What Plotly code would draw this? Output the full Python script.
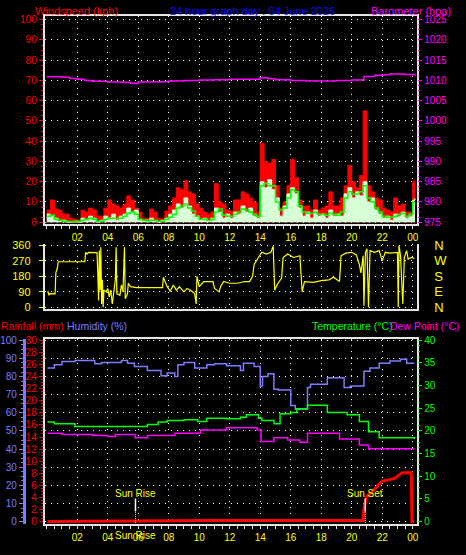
import plotly.graph_objects as go

# ---------------- data ----------------
hour_ticks = [2, 4, 6, 8, 10, 12, 14, 16, 18, 20, 22, 24]
hour_labels = ["02", "04", "06", "08", "10", "12", "14", "16", "18", "20", "22", "00"]

wind_hours = [0.0, 0.25, 0.5, 0.75, 1.0, 1.25, 1.5, 1.75, 2.0, 2.25, 2.5, 2.75, 3.0, 3.25, 3.5, 3.75,
              4.0, 4.25, 4.5, 4.75, 5.0, 5.25, 5.5, 5.75, 6.0, 6.25, 6.5, 6.75, 7.0, 7.25, 7.5, 7.75,
              8.0, 8.25, 8.5, 8.75, 9.0, 9.25, 9.5, 9.75, 10.0, 10.25, 10.5, 10.75, 11.0, 11.25, 11.5, 11.75,
              12.0, 12.25, 12.5, 12.75, 13.0, 13.25, 13.5, 13.75, 14.0, 14.25, 14.5, 14.75, 15.0, 15.25, 15.5, 15.75,
              16.0, 16.25, 16.5, 16.75, 17.0, 17.25, 17.5, 17.75, 18.0, 18.25, 18.5, 18.75, 19.0, 19.25, 19.5, 19.75,
              20.0, 20.25, 20.5, 20.75, 21.0, 21.25, 21.5, 21.75, 22.0, 22.25, 22.5, 22.75, 23.0, 23.25, 23.5, 23.75,
              24.0, 24.15]
wind_gust = [6, 11, 6.5, 6, 4, 4, 2, 1.5, 1, 6, 5, 7, 6, 3, 3, 7,
             11, 9, 8, 7, 9, 13, 11, 7, 5, 2, 2, 6.5, 5, 2, 1.5, 5.5,
             8, 12, 17, 16, 20.5, 15, 14, 9, 7, 5, 4, 5, 19, 10, 9, 6,
             5.5, 11, 11, 15, 14, 12, 10, 5, 39, 30, 29, 31, 18, 7, 10, 18,
             31, 22, 11, 8, 8, 6, 11, 6, 7, 8, 15, 8, 8, 12, 18, 28,
             20, 17, 23, 55, 18, 15, 12, 11, 7, 6, 5, 12, 8, 9, 5, 5,
             20, 21]
wind_avg = [3, 3.5, 1.5, 1, 0.5, 0.5, 0.3, 0.3, 0.5, 1, 1.5, 2, 1.5, 0.5, 0.5, 1.5,
            2, 2, 2, 2, 3, 4.5, 5, 4, 1.5, 1, 0.8, 1, 1, 0.5, 0.5, 1.5,
            2.5, 4, 7, 8, 9, 7, 5.5, 3, 1.5, 1.5, 1, 1.5, 5, 6.5, 3.5, 3,
            3, 4, 5, 6.5, 6, 5, 4, 3, 18, 19, 18, 18, 10, 6, 7, 12,
            16, 15, 8, 5, 4.5, 4.5, 5, 4, 4, 3.5, 4.5, 4, 3.5, 5, 12, 15,
            14, 14, 15, 18, 12, 10, 7, 5, 3, 2.5, 2.5, 3, 4, 4.5, 3, 4,
            10, 10]
wind_speed = [4, 3, 2, 0.5, 1, 0, 0, 0.5, 0, 2, 1, 3, 2, 0, 1, 3,
              2, 4, 1, 3, 4, 7, 5, 6, 1, 0.5, 1, 2, 0.5, 0, 1, 2,
              4, 6, 9, 7, 12, 8, 4, 3, 1, 2, 0.5, 2, 7, 5, 2, 4,
              2, 5, 4, 8, 5, 7, 3, 2, 20, 17, 21, 16, 12, 3, 8, 14,
              17, 14, 7, 3, 5, 2, 6, 3, 4, 2, 6, 3, 4, 3, 14, 17,
              12, 15, 13, 20, 10, 12, 6, 4, 2, 3, 1, 4, 3, 5, 2, 3,
              11, 12]

baro_hours = [0, 0.5, 1, 1.5, 2, 2.5, 3, 4, 5, 5.5, 6, 7, 8, 9, 10, 11, 12, 13, 14, 14.5,
              15, 16, 17, 18, 19, 20, 20.7, 20.8, 21.5, 22, 22.5, 23, 23.5, 24.15]
baro_hpa = [1010.9, 1010.9, 1010.8, 1010.5, 1010.3, 1010.0, 1009.8, 1009.6, 1009.5, 1009.3,
            1009.6, 1009.7, 1009.9, 1010.0, 1010.1, 1010.2, 1010.3, 1010.3, 1010.7, 1010.4,
            1010.2, 1010.0, 1009.9, 1009.9, 1010.0, 1010.1, 1010.2, 1011.0, 1011.3, 1011.4,
            1011.6, 1011.6, 1011.5, 1011.2]

dir_hours = [0.07, 0.15, 0.2, 0.55, 0.6, 0.7, 0.76, 2.5, 2.55, 2.65, 2.75, 3.3, 3.35, 3.4, 3.45, 3.5,
             3.55, 3.6, 3.65, 3.7, 3.75, 3.9, 4.0, 4.1, 4.2, 4.3, 4.4, 4.5, 4.55, 4.6, 4.8, 4.9,
             5.0, 5.1, 5.15, 5.3, 5.35, 5.5, 5.9, 7.6, 7.65, 7.8, 7.9, 8.1, 8.3, 8.5, 8.7, 9.0,
             9.2, 9.5, 9.7, 9.8, 9.85, 10.0, 10.3, 10.9, 11.0, 11.3, 11.4, 11.6, 12.0, 12.5, 13.0, 13.3,
             13.5, 13.6, 13.9, 14.1, 14.4, 14.7, 14.85, 14.95, 15.1, 15.4, 15.5, 15.8, 16.2, 16.6, 16.7, 16.75,
             16.9, 17.5, 18.0, 18.5, 18.8, 19.0, 19.2, 19.3, 19.6, 20.0, 20.3, 20.5, 20.6, 20.75, 20.8, 20.9,
             21.0, 21.1, 21.2, 21.5, 21.8, 22.0, 22.2, 22.5, 23.0, 23.05, 23.1, 23.2, 23.35, 23.45, 23.6, 23.7,
             23.9, 24.1]
dir_deg = [95, 70, 80, 78, 200, 230, 265, 265, 320, 310, 320, 318, 200, 40, 330, 100,
           350, 20, 160, 0, 100, 90, 110, 60, 100, 20, 90, 160, 350, 80, 70, 130,
           90, 350, 50, 80, 140, 120, 115, 115, 175, 140, 120, 95, 130, 100, 120, 90,
           110, 95, 80, 20, 180, 120, 150, 150, 110, 90, 120, 150, 140, 140, 150, 150,
           180, 250, 290, 320, 310, 320, 355, 100, 130, 170, 290, 310, 290, 300, 160, 90,
           150, 145, 155, 160, 175, 160, 150, 300, 315, 320, 305, 250, 200, 300, 10, 320,
           340, 0, 330, 320, 330, 270, 320, 315, 320, 0, 360, 300, 20, 290, 330, 280,
           290, 285]
compass_deg = [0, 90, 180, 270, 360]
compass_labels = ["N", "E", "S", "W", "N"]

hum_hours = [0.05, 0.5, 1.0, 1.85, 3.15, 3.6, 4.9, 5.3, 5.75, 6.6, 7.5, 7.9, 8.4, 8.6, 9.0, 9.7,
             10.5, 11.0, 11.8, 12.7, 12.9, 13.6, 14.0, 14.15, 14.5, 14.9, 15.2, 16.0, 16.3, 17.1, 17.3,
             18.4, 19.5, 19.9, 20.8, 21.2, 21.8, 22.5, 23.2, 23.6, 24.1]
hum_pct = [84.7, 86.5, 88.3, 88.8, 87, 87.7, 88.8, 87.4, 85.6, 83.4, 80.5, 82, 80, 86.5, 87.7, 84.7,
           86.5, 87, 86, 83.4, 87.4, 85.6, 74.8, 80, 81.6, 73, 72.6, 64, 62, 73.9, 75.7,
           79.3, 74, 74.8, 82.9, 84.7, 87.4, 88.6, 89.5, 87.4, 87.4]

temp_hours = [0.05, 0.5, 1.85, 5.75, 6.6, 7.3, 7.9, 9.0, 9.9, 10.5, 11.8, 12.7, 13.1, 13.9, 14.1,
              14.9, 15.3, 16.0, 16.4, 17.1, 18.4, 19.7, 20.5, 21.1, 21.8, 24.1]
temp_c = [22, 21.6, 21, 21, 21.4, 22, 22.3, 22.5, 22.1, 22.8, 22.7, 23, 23.6, 22.8, 22.3,
          21.6, 23.8, 24.1, 24.9, 25.7, 24.1, 23.6, 22.1, 19.8, 18.5, 18.2]

dew_hours = [0.05, 1.0, 3.0, 4.0, 4.5, 5.8, 6.6, 8.4, 10.1, 11.8, 13.8, 14.05, 14.9, 15.8, 16.6,
             17.1, 19.2, 20.5, 21.1, 24.1]
dew_c = [19.5, 19.2, 19.0, 18.8, 19.2, 18.5, 19.0, 19.5, 20.2, 20.7, 20.2, 17.7, 18.5, 18.0, 17.5,
         19.5, 18.2, 16.9, 16.1, 16.1]

rain_hours = [0.05, 10.95, 20.74, 20.8, 20.96, 21.4, 21.8, 22.0, 22.4, 22.85, 23.3, 23.9, 23.95, 24.1]
rain_mm = [0, 0.2, 0.2, 2.2, 4.1, 5.1, 6.2, 6.7, 6.9, 7.2, 8.1, 8.1, 0, 0]

sunrise_h = 5.82
sunset_h = 20.89

# ---------------- layout helpers ----------------
W, H = 466, 555
XD = [43 / W, 418 / W]
Y_TOP = [1 - 223.3 / H, 1 - 10.7 / H]
Y_DIR = [1 - 309.3 / H, 1 - 243.3 / H]
Y_BOT = [1 - 529.3 / H, 1 - 340 / H]
XR = [-0.13, 24.30]

FONT = "Liberation Sans, Arial, sans-serif"
GRID = dict(showgrid=True, gridcolor="#ffffff", griddash="1px,5px", gridwidth=1)
RED = "#ff0000"
MAG = "#ff00ff"
YEL = "#ffff00"
GRN = "#00ff00"
HUM = "#7c7cff"
BORDER = "#e6e6e6"

fig = go.Figure()

# top panel: wind
fig.add_trace(go.Scatter(x=wind_hours, y=wind_gust, mode="lines", line=dict(color=RED, width=1, shape="hv"),
                         fill="tozeroy", fillcolor=RED, xaxis="x", yaxis="y"))
fig.add_trace(go.Scatter(x=wind_hours, y=wind_speed, mode="lines", line=dict(color="#d6ffd6", width=1, shape="hv"),
                         fill="tozeroy", fillcolor="#d6ffd6", xaxis="x", yaxis="y"))
fig.add_trace(go.Scatter(x=wind_hours, y=wind_avg, mode="lines", line=dict(color=GRN, width=1.5, shape="hv"),
                         xaxis="x", yaxis="y"))
fig.add_trace(go.Scatter(x=baro_hours, y=baro_hpa, mode="lines", line=dict(color=MAG, width=1.5, shape="hv"),
                         xaxis="x", yaxis="y2"))

# middle panel: direction
fig.add_trace(go.Scatter(x=dir_hours, y=dir_deg, mode="lines", line=dict(color=YEL, width=1.2),
                         xaxis="x2", yaxis="y3"))
# invisible carrier so the compass-letter axis is drawn
fig.add_trace(go.Scatter(x=[XR[0], XR[0]], y=[compass_deg[0], compass_deg[-1]], mode="lines",
                         line=dict(color="rgba(0,0,0,0)", width=0), xaxis="x2", yaxis="y4",
                         hoverinfo="skip"))

# bottom panel
fig.add_trace(go.Scatter(x=rain_hours, y=rain_mm, mode="lines", line=dict(color=RED, width=3),
                         xaxis="x3", yaxis="y5"))
fig.add_trace(go.Scatter(x=hum_hours, y=hum_pct, mode="lines", line=dict(color=HUM, width=1.5, shape="hv"),
                         xaxis="x3", yaxis="y6"))
fig.add_trace(go.Scatter(x=temp_hours, y=temp_c, mode="lines", line=dict(color=GRN, width=1.5, shape="hv"),
                         xaxis="x3", yaxis="y7"))
fig.add_trace(go.Scatter(x=dew_hours, y=dew_c, mode="lines", line=dict(color=MAG, width=1.5, shape="hv"),
                         xaxis="x3", yaxis="y7"))

tickfont_x = dict(color=YEL, size=10, family=FONT)
xcommon = dict(range=XR, domain=XD, tickvals=hour_ticks, ticktext=hour_labels, zeroline=False, **GRID)

fig.update_layout(
    width=W, height=H, margin=dict(l=0, r=0, t=0, b=0),
    paper_bgcolor="#000000", plot_bgcolor="#000000", showlegend=False,
    font=dict(family=FONT, size=10),
    xaxis=dict(anchor="y", ticks="outside", ticklen=3, tickcolor=BORDER, tickfont=tickfont_x,
               showline=True, linecolor=BORDER, linewidth=2, mirror=True,
               minor=dict(dtick=0.5, tick0=0, ticklen=3, tickcolor=BORDER, showgrid=False), **xcommon),
    yaxis=dict(domain=Y_TOP, anchor="x", range=[-1.1, 101.6], tickvals=list(range(0, 101, 10)),
               tickfont=dict(color=RED, size=10), ticks="outside", ticklen=4, tickcolor=RED,
               showline=True, linecolor=BORDER, linewidth=2, mirror=True, zeroline=False,
               minor=dict(dtick=2.5, ticklen=2, tickcolor=RED, showgrid=False), **GRID),
    yaxis2=dict(overlaying="y", side="right", anchor="x", range=[974.45, 1025.8],
                tickvals=list(range(975, 1026, 5)), tickfont=dict(color=MAG, size=10),
                ticks="outside", ticklen=4, tickcolor=MAG, showgrid=False, zeroline=False, showline=False,
                minor=dict(dtick=1.25, ticklen=2, tickcolor=MAG, showgrid=False)),
    xaxis2=dict(anchor="y3", showticklabels=False, ticks="", showline=True, linecolor=BORDER,
                linewidth=2, mirror=False, **xcommon),
    yaxis3=dict(domain=Y_DIR, anchor="x2", range=[-7.4, 368], tickvals=compass_deg,
                tickfont=dict(color=YEL, size=11), ticks="outside", ticklen=4, tickcolor=YEL,
                ticklabelstandoff=6, showline=True, linecolor=BORDER, linewidth=2, mirror=True,
                zeroline=False, **GRID),
    yaxis4=dict(overlaying="y3", side="right", anchor="x2", range=[-7.4, 368],
                tickvals=compass_deg, ticktext=compass_labels,
                tickfont=dict(color=YEL, size=13), ticks="", ticklabelstandoff=16,
                showgrid=False, zeroline=False, showline=False),
    xaxis3=dict(anchor="y5", ticks="outside", ticklen=3, tickcolor=BORDER, tickfont=tickfont_x,
                showline=True, linecolor=BORDER, linewidth=2, mirror=True,
                minor=dict(dtick=0.5, tick0=0, ticklen=3, tickcolor=BORDER, showgrid=False), **xcommon),
    yaxis5=dict(domain=Y_BOT, anchor="x3", range=[-0.37, 30.28], tickvals=list(range(0, 31, 2)),
                tickfont=dict(color=RED, size=10), ticks="outside", ticklen=4, tickcolor=RED,
                showline=True, linecolor=BORDER, linewidth=2, mirror=True, zeroline=False, showgrid=False,
                minor=dict(dtick=0.5, ticklen=2, tickcolor=RED, showgrid=False)),
    yaxis6=dict(overlaying="y5", anchor="free", position=22 / W, side="left", range=[-1.24, 100.9],
                tickvals=list(range(0, 101, 10)), tickfont=dict(color=HUM, size=10),
                ticks="outside", ticklen=4, tickcolor=HUM, showline=True, linecolor=HUM, linewidth=3,
                zeroline=False, minor=dict(dtick=2.5, ticklen=2, tickcolor=HUM, showgrid=False), **GRID),
    yaxis7=dict(overlaying="y5", side="right", anchor="x3", range=[-0.5, 40.37],
                tickvals=list(range(0, 41, 5)), tickfont=dict(color=GRN, size=10),
                ticks="outside", ticklen=4, tickcolor=GRN, showgrid=False, zeroline=False, showline=False,
                minor=dict(dtick=1.25, ticklen=2, tickcolor=GRN, showgrid=False)),
)

def label(text, xpix, ypix, color, anchor="left", size=11):
    fig.add_annotation(text=text, x=xpix / W, y=1 - ypix / H, xref="paper", yref="paper",
                       xanchor=anchor, yanchor="middle", showarrow=False, borderpad=0,
                       font=dict(color=color, size=size, family=FONT))

label("Windspeed (kph)", 32, 5, RED, size=11)
label("24 hour graph day : 04 June 2026", 252, 5, "#0a0aff", anchor="center", size=11)
label("Barometer (hpa)", 370, 5, MAG, size=11)
label("Rainfall (mm)", -2, 327, RED, size=10.5)
label("Humidity (%)", 64, 327, HUM, size=10.5)
label("Temperature (°C)", 311, 327, GRN, size=10.5)
label("Dew Point (°C)", 390, 327, MAG, size=10.5)

# sun rise / set
for h, name in [(sunrise_h, "Sun Rise"), (sunset_h, "Sun Set")]:
    fig.add_shape(type="line", x0=h, x1=h, y0=2.2, y1=5.1, xref="x3", yref="y7",
                  line=dict(color="#ffffff", width=1.5))
    fig.add_shape(type="line", x0=h, x1=h, y0=-0.3, y1=2.2, xref="x3", yref="y7",
                  line=dict(color=YEL, width=1, dash="1px,1px"))
    fig.add_annotation(text=name, x=h, y=6.2, xref="x3", yref="y7", showarrow=False,
                       xanchor="center", yanchor="middle", font=dict(color=YEL, size=10, family=FONT))
fig.add_annotation(text="Sun Rise", x=sunrise_h, y=1 - 541 / H, xref="x3", yref="paper", showarrow=False,
                   xanchor="center", yanchor="middle", font=dict(color=YEL, size=10, family=FONT))

fig.write_html("out.html", config={"displayModeBar": False},
               post_script="document.body.style.margin='0';document.body.style.overflow='hidden';")
